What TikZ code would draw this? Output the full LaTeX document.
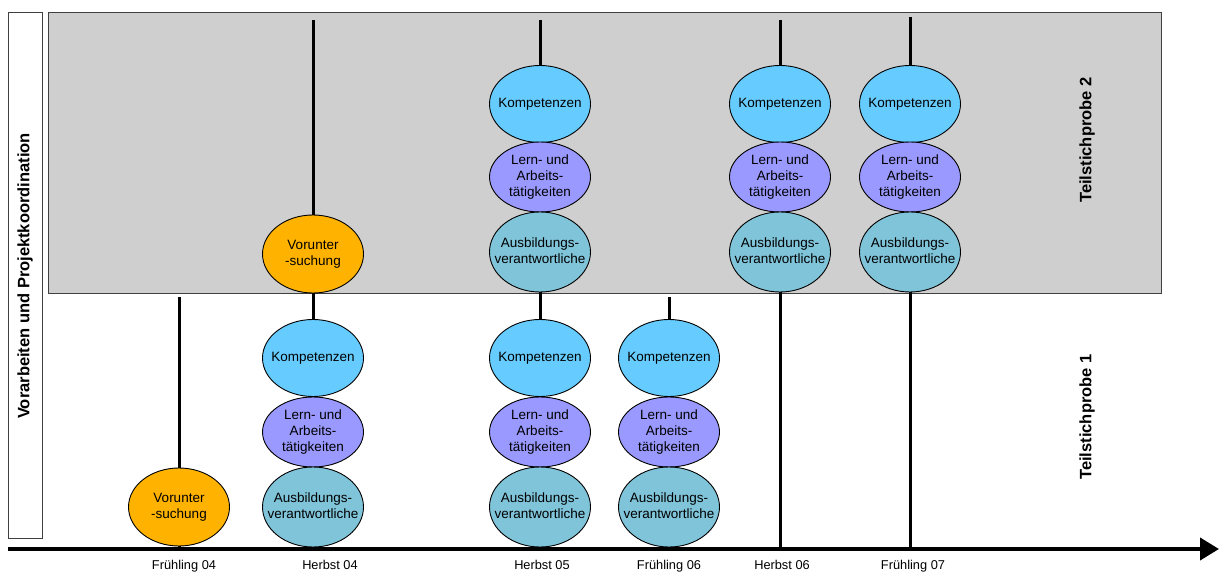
\documentclass[tikz,border=0pt]{standalone}
\usepackage{fontspec}
\setmainfont{Liberation Sans}
\usetikzlibrary{shapes.geometric,arrows.meta}
\definecolor{kompc}{HTML}{66CCFF}
\definecolor{lernc}{HTML}{9999FF}
\definecolor{ausbc}{HTML}{80C4DA}
\definecolor{voruc}{HTML}{FFB300}
\definecolor{panelc}{HTML}{CFCFCF}
\definecolor{framec}{HTML}{404040}
\newcommand{\et}[1]{\makebox[0pt][c]{\begin{tabular}{@{}c@{}}#1\end{tabular}}}
\tikzset{
  ell/.style={ellipse, draw=black, line width=0.9pt, inner sep=0pt, minimum width=101pt, font=\fontsize{13.5}{16}\selectfont},
  komp/.style={ell, fill=kompc, minimum height=77pt},
  lern/.style={ell, fill=lernc, minimum height=70pt},
  ausb/.style={ell, fill=ausbc, minimum height=80pt},
  voru/.style={ell, fill=voruc, minimum height=78pt},
  stem/.style={line width=3pt, black},
  datelbl/.style={font=\fontsize{12.8}{14}\selectfont, anchor=base},
  sidelbl/.style={font=\bfseries\fontsize{16.5}{18}\selectfont, rotate=90, anchor=center},
}
\begin{document}
\begin{tikzpicture}[x=1pt,y=-1pt]
\useasboundingbox (0,0) rectangle (1219,572);
% panels
\draw[draw=framec, fill=white, line width=0.8pt] (8,12) rectangle (42,538);
\node[sidelbl] (vor) at (25,276) {Vorarbeiten und Projektkoordination};
\draw[draw=framec, fill=panelc, line width=0.8pt] (48,12) rectangle (1161,293);
\node[sidelbl] (tp2) at (1087,140) {Teilstichprobe 2};
\node[sidelbl] (tp1) at (1087,417) {Teilstichprobe 1};
% stem coordinates
\coordinate (f04t) at (179,297); \coordinate (f04b) at (179,549);
\coordinate (h04t) at (313,20);  \coordinate (h04b) at (313,549);
\coordinate (h05t) at (540,20);  \coordinate (h05b) at (540,549);
\coordinate (f06t) at (669,297); \coordinate (f06b) at (669,549);
\coordinate (h06t) at (780,20);  \coordinate (h06b) at (780,549);
\coordinate (f07t) at (910,17);  \coordinate (f07b) at (910,549);
\foreach \s in {f04,h04,h05,f06,h06,f07} \draw[stem] (\s t) -- (\s b);
% Fruehling 04
\node[voru] (f04v) at (179,507) {\et{Vorunter\\-suchung}};
% Herbst 04
\node[voru] (h04v) at (313,254) {\et{Vorunter\\-suchung}};
\node[komp] (h04k) at (313,358) {\et{Kompetenzen}};
\node[lern] (h04l) at (313,432) {\et{Lern- und\\Arbeits-\\tätigkeiten}};
\node[ausb] (h04a) at (313,507) {\et{Ausbildungs-\\verantwortliche}};
% Herbst 05 upper
\node[komp] (h05k2) at (540,104) {\et{Kompetenzen}};
\node[lern] (h05l2) at (540,177) {\et{Lern- und\\Arbeits-\\tätigkeiten}};
\node[ausb] (h05a2) at (540,252) {\et{Ausbildungs-\\verantwortliche}};
% Herbst 05 lower
\node[komp] (h05k) at (540,358) {\et{Kompetenzen}};
\node[lern] (h05l) at (540,432) {\et{Lern- und\\Arbeits-\\tätigkeiten}};
\node[ausb] (h05a) at (540,507) {\et{Ausbildungs-\\verantwortliche}};
% Fruehling 06
\node[komp] (f06k) at (669,358) {\et{Kompetenzen}};
\node[lern] (f06l) at (669,432) {\et{Lern- und\\Arbeits-\\tätigkeiten}};
\node[ausb] (f06a) at (669,507) {\et{Ausbildungs-\\verantwortliche}};
% Herbst 06
\node[komp] (h06k) at (780,104) {\et{Kompetenzen}};
\node[lern] (h06l) at (780,177) {\et{Lern- und\\Arbeits-\\tätigkeiten}};
\node[ausb] (h06a) at (780,252) {\et{Ausbildungs-\\verantwortliche}};
% Fruehling 07
\node[komp] (f07k) at (910,104) {\et{Kompetenzen}};
\node[lern] (f07l) at (910,177) {\et{Lern- und\\Arbeits-\\tätigkeiten}};
\node[ausb] (f07a) at (910,252) {\et{Ausbildungs-\\verantwortliche}};
% axis
\coordinate (ax0) at (8,549);
\coordinate (ax1) at (1219,549);
\draw[line width=4pt, -{Triangle[length=19pt,width=22pt]}] (ax0) -- (ax1);
% date labels
\node[datelbl] (l1) at (184,569) {Frühling 04};
\node[datelbl] (l2) at (330,569) {Herbst 04};
\node[datelbl] (l3) at (542,569) {Herbst 05};
\node[datelbl] (l4) at (669,569) {Frühling 06};
\node[datelbl] (l5) at (782,569) {Herbst 06};
\node[datelbl] (l6) at (913,569) {Frühling 07};
\end{tikzpicture}
\end{document}
